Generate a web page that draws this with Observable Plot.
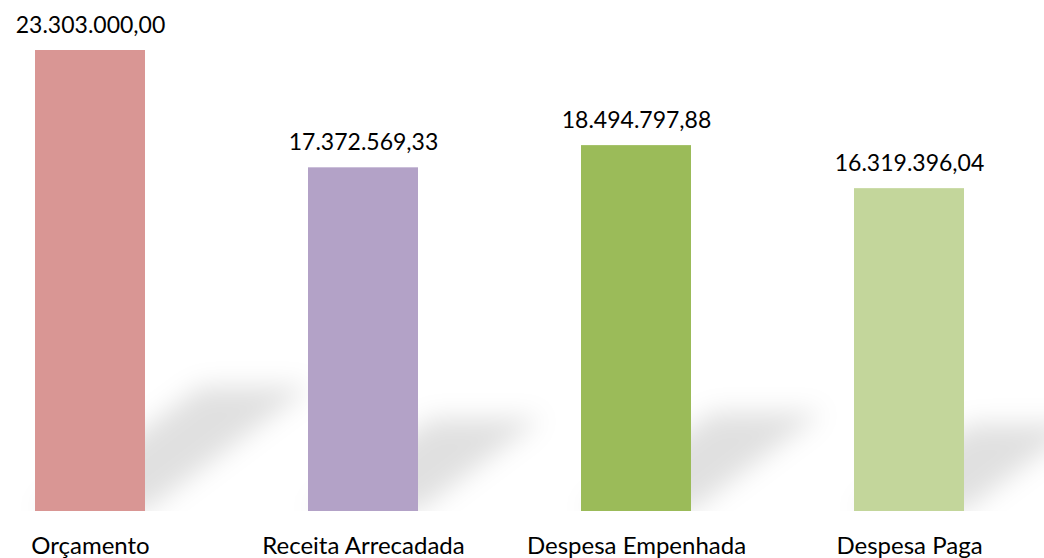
<!DOCTYPE html>
<html>
<head>
<meta charset="utf-8">
<script src="https://cdn.jsdelivr.net/npm/d3@7"></script>
<script src="https://cdn.jsdelivr.net/npm/@observablehq/plot@0.6"></script>
<style>
  html, body { margin: 0; padding: 0; background: #fff; }
  svg { display: block; }
</style>
</head>
<body>
<div id="chart"></div>
<script>
const categories = ["Orçamento", "Receita Arrecadada", "Despesa Empenhada", "Despesa Paga"];
const values = [23303000.00, 17372569.33, 18494797.88, 16319396.04];
const colors = ["#D99694", "#B3A2C7", "#9BBB59", "#C3D69B"];

const fmt = d3.formatLocale({decimal: ",", thousands: ".", grouping: [3], currency: ["", ""]}).format(",.2f");
const data = categories.map((c, i) => ({category: c, value: values[i], color: colors[i]}));

const plot = Plot.plot({
  width: 1044,
  height: 558,
  marginTop: 50,
  marginBottom: 47,
  marginLeft: 0,
  marginRight: 45,
  style: {fontFamily: "Lato, 'Open Sans', sans-serif", background: "#fff", color: "#000"},
  x: {domain: categories, paddingInner: 0.597, paddingOuter: 0.128, label: null},
  y: {domain: [0, d3.max(values)], axis: null},
  marks: [
    Plot.barY(data, {x: "category", y: "value", fill: "#000"}),
    Plot.barY(data, {x: "category", y: "value", fill: "color"}),
    Plot.text(data, {x: "category", y: "value", text: d => fmt(d.value), lineAnchor: "bottom", dy: -18, fontSize: 23, fill: "#000"}),
    Plot.axisX({tickSize: 0, tickPadding: 25, fontSize: 24, label: null, fill: "#000"})
  ]
});

document.getElementById("chart").appendChild(plot);

// Perspective shadow derived from the first (shadow) bar mark
const y0 = plot.scale("y").apply(0);
const svg = d3.select(plot);
const defs = svg.insert("defs", ":first-child");
const f = defs.append("filter").attr("id", "shadowBlur")
  .attr("x", "-50%").attr("y", "-50%").attr("width", "200%").attr("height", "200%");
f.append("feGaussianBlur").attr("stdDeviation", 13);
defs.append("clipPath").attr("id", "shadowClip")
  .append("rect").attr("x", 0).attr("y", 0).attr("width", 1044).attr("height", y0);

const barGroups = Array.from(plot.querySelectorAll("g")).filter(g => {
  const rs = Array.from(g.children).filter(c => c.tagName === "rect");
  return rs.length === values.length;
});
const shadowNode = barGroups[0];
if (shadowNode) {
  const sg = d3.select(shadowNode);
  const rects = Array.from(shadowNode.children).filter(c => c.tagName === "rect");
  const inner = sg.append("g")
    .attr("transform", `matrix(1,0,-0.36,0.27,${0.36 * y0},${0.73 * y0})`);
  rects.forEach(r => inner.node().appendChild(r));
  sg.attr("fill-opacity", 0.12).attr("filter", "url(#shadowBlur)");
  const wrap = document.createElementNS("http://www.w3.org/2000/svg", "g");
  wrap.setAttribute("clip-path", "url(#shadowClip)");
  shadowNode.parentNode.insertBefore(wrap, shadowNode);
  wrap.appendChild(shadowNode);
}
</script>
</body>
</html>
